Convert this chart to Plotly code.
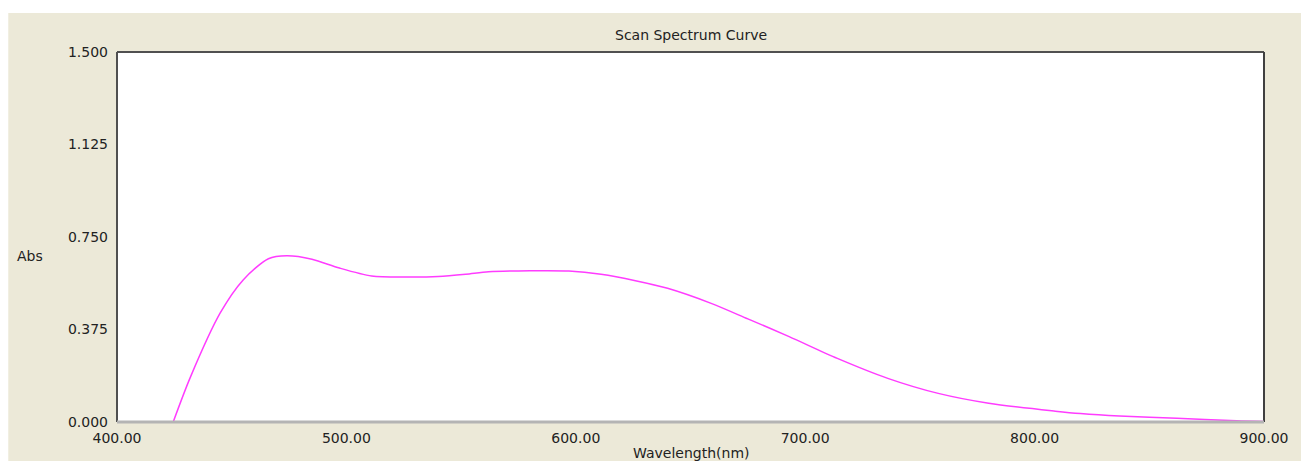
import plotly.graph_objects as go

wavelength = [424.5, 432, 445, 455, 466, 474, 485, 497, 511, 526, 540, 552, 562, 580, 597,
              611, 626, 640, 659, 675, 693, 714, 736, 758, 780, 809, 820, 837, 862, 888, 900]
absorbance = [0.0, 0.182, 0.442, 0.576, 0.662, 0.674, 0.660, 0.624, 0.592, 0.588, 0.590,
              0.599, 0.609, 0.613, 0.612, 0.599, 0.573, 0.542, 0.481, 0.418, 0.346, 0.258,
              0.177, 0.116, 0.076, 0.044, 0.034, 0.024, 0.015, 0.005, 0.002]

x_ticks = [400, 500, 600, 700, 800, 900]
x_tick_labels = ["400.00", "500.00", "600.00", "700.00", "800.00", "900.00"]
y_ticks = [0, 0.375, 0.75, 1.125, 1.5]
y_tick_labels = ["0.000", "0.375", "0.750", "1.125", "1.500"]

FONT = "DejaVu Sans"
TXT = "#222222"
BG = "#ECE9D8"

fig = go.Figure()
fig.add_trace(go.Scatter(x=wavelength, y=absorbance, mode="lines",
                         line=dict(color="#ff3cff", width=1.5, shape="spline", smoothing=0.8),
                         hoverinfo="skip", showlegend=False))

fig.update_layout(
    width=1301, height=461,
    margin=dict(l=117, r=34, t=52, b=39),
    paper_bgcolor=BG, plot_bgcolor="white",
    font=dict(family=FONT, size=14, color=TXT),
    xaxis=dict(range=[400, 900], tickvals=x_ticks, ticktext=x_tick_labels,
               showgrid=False, zeroline=False, showline=False, ticks="",
               ticklabelstandoff=6,
               tickfont=dict(family=FONT, size=14, color=TXT)),
    yaxis=dict(range=[0, 1.5], tickvals=y_ticks, ticktext=y_tick_labels,
               showgrid=False, zeroline=False, showline=False, ticks="",
               ticklabelstandoff=8,
               tickfont=dict(family=FONT, size=14, color=TXT)),
    shapes=[
        dict(type="rect", xref="paper", yref="paper", x0=-0.2, x1=1.2, y0=1.1054, y1=1.2,
             fillcolor="white", line=dict(width=0), layer="below"),
        dict(type="rect", xref="paper", yref="paper", x0=-0.2, x1=-0.0948, y0=-0.2, y1=1.2,
             fillcolor="white", line=dict(width=0), layer="below"),
        dict(type="line", xref="paper", yref="paper", x0=0, x1=1, y0=1, y1=1,
             line=dict(color="#505050", width=2)),
        dict(type="line", xref="paper", yref="paper", x0=0, x1=0, y0=0, y1=1,
             line=dict(color="#505050", width=2)),
        dict(type="line", xref="paper", yref="paper", x0=1, x1=1, y0=0, y1=1,
             line=dict(color="#404040", width=2)),
        dict(type="line", xref="paper", yref="paper", x0=0, x1=1, y0=0, y1=0,
             line=dict(color="#b4b4b4", width=3)),
    ],
    annotations=[
        dict(text="Scan Spectrum Curve", xref="paper", yref="paper", x=0.5, y=1.0,
             yshift=17, showarrow=False, xanchor="center", yanchor="middle",
             font=dict(family=FONT, size=14, color=TXT)),
        dict(text="Abs", xref="paper", yref="paper", x=-0.0887, y=(422 - 256) / 370,
             showarrow=False, xanchor="left", yanchor="middle",
             font=dict(family=FONT, size=14, color=TXT)),
        dict(text="Wavelength(nm)", xref="paper", yref="paper", x=0.5, y=0,
             yshift=-31, showarrow=False, xanchor="center", yanchor="middle",
             font=dict(family=FONT, size=14, color=TXT)),
    ],
)

fig.write_html("out.html")
